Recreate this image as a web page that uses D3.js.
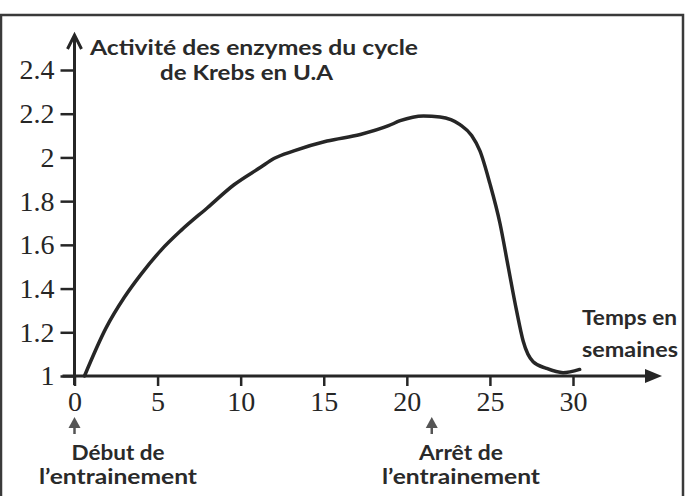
<!DOCTYPE html>
<html>
<head>
<meta charset="utf-8">
<script src="https://cdn.jsdelivr.net/npm/d3@7"></script>
<style>
  html, body { margin: 0; padding: 0; background: #fff; }
  svg { display: block; }
</style>
</head>
<body>
<div id="chart"></div>
<script>
// ---- Data ----
const weeks = [0.6, 1.9, 3.0, 4.0, 5.2, 6.4, 8.0, 9.6, 11.2, 12.0, 13.2, 15.2, 17.2, 18.9, 19.6, 21.0, 22.0, 23.2, 23.9, 24.4, 25.0, 25.6, 26.1, 26.6, 27.0, 27.6, 28.4, 29.4, 30.4];
const activity = [1.0, 1.22, 1.36, 1.465, 1.575, 1.665, 1.77, 1.875, 1.955, 1.995, 2.03, 2.075, 2.105, 2.145, 2.168, 2.19, 2.185, 2.15, 2.10, 2.03, 1.88, 1.70, 1.50, 1.30, 1.16, 1.065, 1.035, 1.015, 1.03];
const xTicks = [0, 5, 10, 15, 20, 25, 30];
const xTickLabels = ["0", "5", "10", "15", "20", "25", "30"];
const yTicks = [1, 1.2, 1.4, 1.6, 1.8, 2, 2.2, 2.4];
const yTickLabels = ["1", "1.2", "1.4", "1.6", "1.8", "2", "2.2", "2.4"];
const markerWeeks = [0, 21.5];
const markerLabels = [["Début de", "l\u2019entrainement"], ["Arrêt de", "l\u2019entrainement"]];
const yTitle = ["Activité des enzymes du cycle", "de Krebs en U.A"];
const xTitle = ["Temps en", "semaines"];

// ---- Layout ----
const W = 685, H = 496;
const ink = "#262626";
const svg = d3.select("#chart").append("svg").attr("width", W).attr("height", H);

const x = d3.scaleLinear().domain([0, 30]).range([74.5, 573]);
const y = d3.scaleLinear().domain([1, 2.4]).range([376, 70]);

// frame
svg.append("rect").attr("x", 1).attr("y", 15).attr("width", 682).attr("height", 495)
  .attr("fill", "none").attr("stroke", "#3a3a3a").attr("stroke-width", 2.5);

// y axis ticks + labels
const yAxis = d3.axisLeft(y).tickValues(yTicks)
  .tickFormat((d, i) => yTickLabels[i]).tickSize(14).tickPadding(6);
const gy = svg.append("g").attr("transform", `translate(${x(0)},0)`).call(yAxis);
gy.select(".domain").remove();
gy.selectAll(".tick line").attr("stroke", ink).attr("stroke-width", 2.5);
gy.selectAll(".tick text").attr("fill", ink)
  .style("font-family", "'Liberation Serif', 'Times New Roman', serif")
  .style("font-size", "28px").attr("dy", "0.32em");

// x axis ticks + labels
const xAxis = d3.axisBottom(x).tickValues(xTicks)
  .tickFormat((d, i) => xTickLabels[i]).tickSize(10).tickPadding(8);
const gx = svg.append("g").attr("transform", `translate(0,${y(1)})`).call(xAxis);
gx.select(".domain").remove();
gx.selectAll(".tick line").attr("stroke", ink).attr("stroke-width", 2.5);
gx.selectAll(".tick text").attr("fill", ink)
  .style("font-family", "'Liberation Serif', 'Times New Roman', serif")
  .style("font-size", "28px").attr("dy", "0.62em");

// axis lines with arrows
const x0 = x(0), y0 = y(1);
const yTop = y(2.4) - 35, xEnd = x(30) + 89;
svg.append("line").attr("x1", x0).attr("x2", x0).attr("y1", y0 + 9).attr("y2", yTop + 1)
  .attr("stroke", ink).attr("stroke-width", 3);
svg.append("path")
  .attr("d", `M${x0 - 7},${yTop + 14} L${x0},${yTop} L${x0 + 7},${yTop + 14}`)
  .attr("fill", "none").attr("stroke", ink).attr("stroke-width", 3)
  .attr("stroke-linejoin", "miter");
svg.append("line").attr("x1", x0 - 12).attr("x2", xEnd - 8).attr("y1", y0).attr("y2", y0)
  .attr("stroke", ink).attr("stroke-width", 3);
svg.append("path")
  .attr("d", `M${xEnd - 17},${y0 - 7} L${xEnd},${y0} L${xEnd - 17},${y0 + 7} Z`)
  .attr("fill", ink);

// curve
const line = d3.line().x((d, i) => x(weeks[i])).y(d => y(d))
  .curve(d3.curveMonotoneX);
svg.append("path").datum(activity).attr("d", line)
  .attr("fill", "none").attr("stroke", ink).attr("stroke-width", 3.5)
  .attr("stroke-linejoin", "round").attr("stroke-linecap", "round");

// titles
const sans = "Lato, 'Open Sans', sans-serif";
const t = svg.append("g").style("font-family", sans).style("font-weight", "bold")
  .attr("fill", "#2a2a2a");
t.append("text").attr("x", 90).attr("y", 55).style("font-size", "21px")
  .attr("textLength", 328).attr("lengthAdjust", "spacingAndGlyphs").text(yTitle[0]);
t.append("text").attr("x", 160).attr("y", 80).style("font-size", "21px")
  .attr("textLength", 173).attr("lengthAdjust", "spacingAndGlyphs").text(yTitle[1]);
t.append("text").attr("x", 582).attr("y", 325).style("font-size", "21px")
  .attr("textLength", 95).attr("lengthAdjust", "spacingAndGlyphs").text(xTitle[0]);
t.append("text").attr("x", 582).attr("y", 357).style("font-size", "21px")
  .attr("textLength", 96).attr("lengthAdjust", "spacingAndGlyphs").text(xTitle[1]);

// markers (small arrows + labels)
const labelCenters = [118, 461];
const labelWidths = [93, 84];
markerWeeks.forEach((w, i) => {
  const mx = x(w);
  const top = y0 + 41;
  svg.append("path")
    .attr("d", `M${mx - 6},${top + 11} L${mx},${top} L${mx + 6},${top + 11} Z`)
    .attr("fill", "#555");
  svg.append("line").attr("x1", mx).attr("x2", mx).attr("y1", top + 9).attr("y2", top + 17)
    .attr("stroke", "#555").attr("stroke-width", 2.5);
  t.append("text").attr("x", labelCenters[i] - labelWidths[i] / 2).attr("y", 460)
    .style("font-size", "21px").attr("textLength", labelWidths[i])
    .attr("lengthAdjust", "spacingAndGlyphs").text(markerLabels[i][0]);
  t.append("text").attr("x", labelCenters[i] - 79).attr("y", 484)
    .style("font-size", "21px").attr("textLength", 158).attr("lengthAdjust", "spacingAndGlyphs")
    .text(markerLabels[i][1]);
});
</script>
</body>
</html>
